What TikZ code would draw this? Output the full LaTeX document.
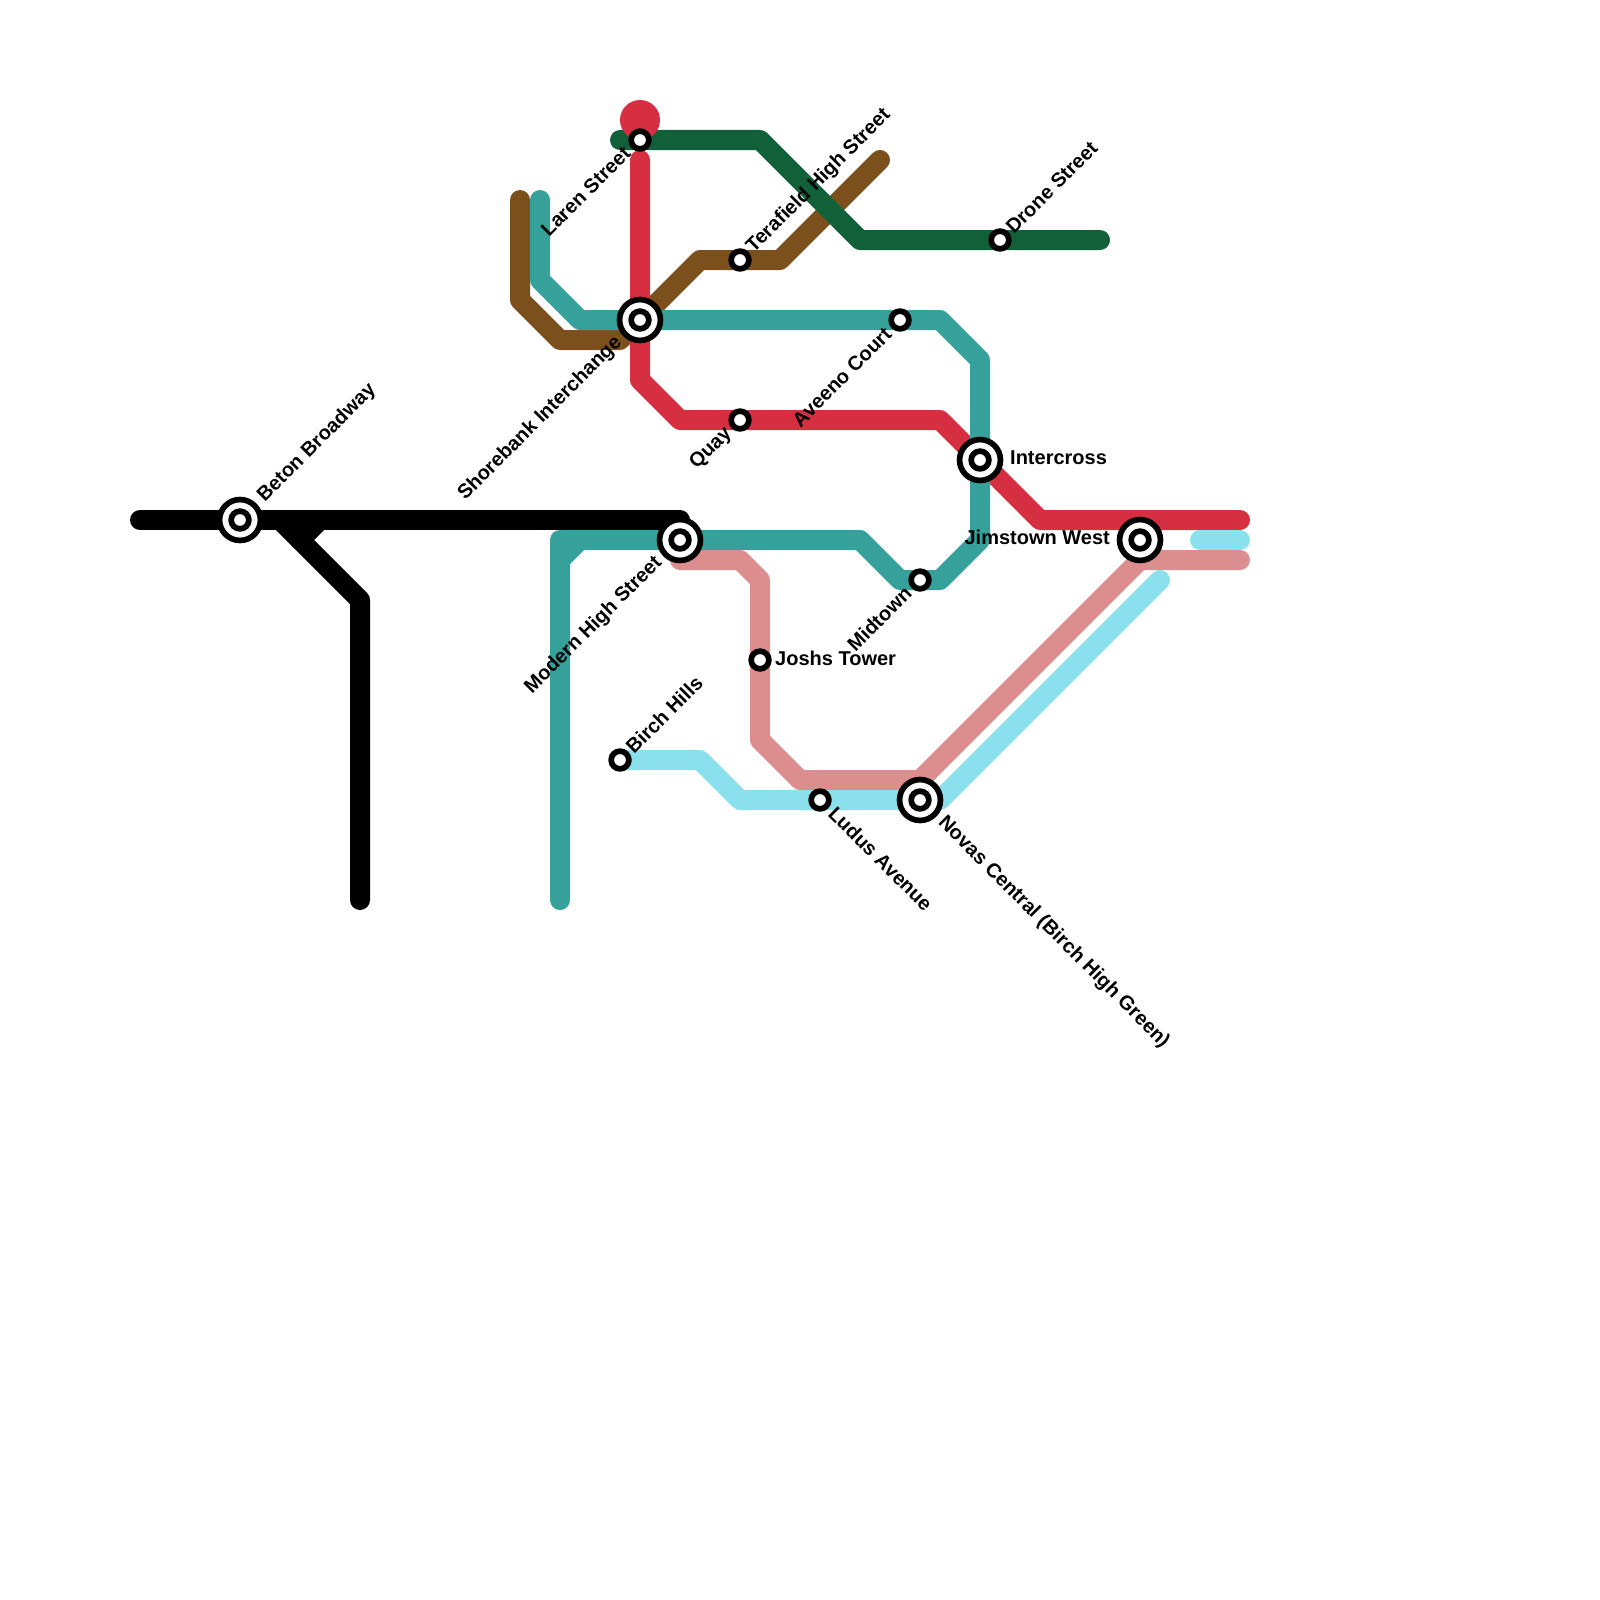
\documentclass[tikz,border=0pt]{standalone}
\usepackage{fontspec}
\setmainfont{Liberation Sans}
\usepackage{xcolor}
\usetikzlibrary{backgrounds, calc}

\definecolor{linered}{HTML}{D62F42}
\definecolor{lineteal}{HTML}{36A09B}
\definecolor{linebrown}{HTML}{7C501C}
\definecolor{linegreen}{HTML}{12603A}
\definecolor{linepink}{HTML}{DC8E8E}
\definecolor{linecyan}{HTML}{8AE0ED}

\begin{document}
\begin{tikzpicture}[
  x=1pt, y=-1pt,
  route/.style={line width=20pt, line cap=round, line join=round},
  stopnode/.style={circle, draw=black, fill=white, line width=5.7pt,
    inner sep=0pt, minimum size=17.7pt},
  hubnode/.style={circle, draw=black, fill=white, line width=5.7pt,
    inner sep=0pt, minimum size=40.9pt},
  stoplabel/.style={font=\fontsize{20}{22}\selectfont\bfseries, inner sep=0pt}
]
\useasboundingbox (0,0) rectangle (1600,1600);

\node (beton)     [hubnode]  at (240,520) {};
\node (shorebank) [hubnode]  at (640,320) {};
\node (modern)    [hubnode]  at (680,540) {};
\node (intercross)[hubnode]  at (980,460) {};
\node (jimstown)  [hubnode]  at (1140,540) {};
\node (novas)     [hubnode]  at (920,800) {};

\node (betonin)      [stopnode] at (beton) {};
\node (shorebankin)  [stopnode] at (shorebank) {};
\node (modernin)     [stopnode] at (modern) {};
\node (intercrossin) [stopnode] at (intercross) {};
\node (jimstownin)   [stopnode] at (jimstown) {};
\node (novasin)      [stopnode] at (novas) {};

\node (laren)   [stopnode] at (640,140) {};
\node (terafield)[stopnode] at (740,260) {};
\node (aveeno)  [stopnode] at (900,320) {};
\node (quay)    [stopnode] at (740,420) {};
\node (midtown) [stopnode] at (920,580) {};
\node (drone)   [stopnode] at (1000,240) {};
\node (joshs)   [stopnode] at (760,660) {};
\node (birch)   [stopnode] at (620,760) {};
\node (ludus)   [stopnode] at (820,800) {};

\begin{scope}[on background layer]
\draw[route, linebrown] (520,200) -- (520,300) -- (560,340) -- (620,340)
  -- (700,260) -- (terafield.center) -- (780,260) -- (880,160);
\draw[route, linegreen] (620,140) -- (laren.center) -- (760,140) -- (860,240)
  -- (drone.center) -- (1100,240);
\fill[linered] (640,120) circle (20pt);
\draw[route, linered] (640,160) -- (shorebank.center) -- (640,380) -- (680,420)
  -- (quay.center) -- (940,420) -- (intercross.center) -- (1040,520) -- (1240,520);
\draw[route, lineteal] (540,200) -- (540,280) -- (580,320) -- (shorebank.center)
  -- (aveeno.center) -- (940,320) -- (980,360) -- (intercross.center)
  -- (980,540) -- (940,580) -- (midtown.center) -- (900,580) -- (860,540)
  -- (modern.center) -- (560,540) -- (560,900);
\draw[route, lineteal] (560,560) -- (580,540);
\draw[route, black] (140,520) -- (beton.center) -- (modern.center |- beton.center);
\draw[route, black] (280,520) -- (360,600) -- (360,900);
\draw[route, black] (300,540) -- (320,520);
\draw[route, linepink] (modern.center |- 0,560) -- (740,560) -- (760,580)
  -- (joshs.center) -- (760,740) -- (800,780) -- (920,780)
  -- (jimstown.center |- 0,560) -- (1240,560);
\draw[route, linecyan] (birch.center) -- (700,760) -- (740,800) -- (ludus.center)
  -- (novas.center) -- (940,800) -- (1160,580);
\draw[route, linecyan] (1200,540) -- (1240,540);
\end{scope}

\node (betonlabel)     [stoplabel, rotate=45, anchor=west]  at ([xshift=21pt,yshift=21pt]beton.center) {Beton Broadway};
\node (shorebanklabel) [stoplabel, rotate=45, anchor=east]  at ([xshift=-21pt,yshift=-20pt]shorebank.center) {Shorebank Interchange};
\node (modernlabel)    [stoplabel, rotate=45, anchor=east]  at ([xshift=-21pt,yshift=-20pt]modern.center) {Modern High Street};
\node (intercrosslabel)[stoplabel, anchor=west]             at ([xshift=30pt,yshift=2pt]intercross.center) {Intercross};
\node (jimstownlabel)  [stoplabel, anchor=east]             at ([xshift=-30pt,yshift=3pt]jimstown.center) {Jimstown West};
\node (novaslabel)     [stoplabel, rotate=-45, anchor=west] at ([xshift=21pt,yshift=-20pt]novas.center) {Novas Central (Birch High Green)};
\node (larenlabel)     [stoplabel, rotate=45, anchor=east]  at ([xshift=-13pt,yshift=-10pt]laren.center) {Laren Street};
\node (terafieldlabel) [stoplabel, rotate=45, anchor=west]  at ([xshift=10pt,yshift=10pt]terafield.center) {Terafield High Street};
\node (aveenolabel)    [stoplabel, rotate=45, anchor=east]  at ([xshift=-12pt,yshift=-11pt]aveeno.center) {Aveeno Court};
\node (quaylabel)      [stoplabel, rotate=45, anchor=east]  at ([xshift=-11pt,yshift=-11pt]quay.center) {Quay};
\node (midtownlabel)   [stoplabel, rotate=45, anchor=east]  at ([xshift=-12pt,yshift=-10pt]midtown.center) {Midtown};
\node (dronelabel)     [stoplabel, rotate=45, anchor=west]  at ([xshift=9pt,yshift=10pt]drone.center) {Drone Street};
\node (joshslabel)     [stoplabel, anchor=west]             at ([xshift=15pt,yshift=2pt]joshs.center) {Joshs Tower};
\node (birchlabel)     [stoplabel, rotate=45, anchor=west]  at ([xshift=9pt,yshift=10pt]birch.center) {Birch Hills};
\node (luduslabel)     [stoplabel, rotate=-45, anchor=west] at ([xshift=12pt,yshift=-10pt]ludus.center) {Ludus Avenue};

\end{tikzpicture}
\end{document}
